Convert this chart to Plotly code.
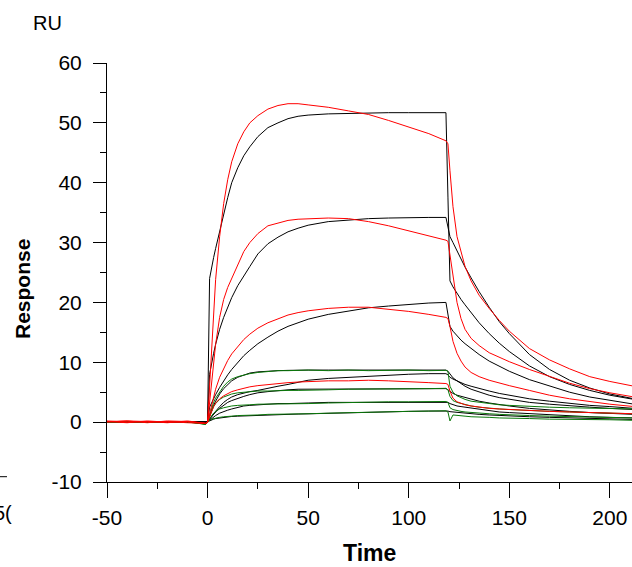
import plotly.graph_objects as go

# ---------------- data ----------------
T = [-50, -40, -30, -20, -10, -1,
     0, 1, 2, 3, 4, 6, 8, 10, 12, 15, 18, 21, 25, 30, 35, 40, 45, 50,
     60, 70, 80, 90, 100, 110, 118.5,
     119.5, 120.5, 122, 124, 126, 128, 131, 135, 140, 145, 150, 160, 170, 180, 190, 200, 212]

# fitted curves (black)
fit_A = [0, 0, 0, 0, 0, 0,
         0, 24, 26, 27.5, 29, 32, 35, 37.5, 40, 42.5, 44.5, 46, 47.7, 49.2, 50, 50.7, 51.1, 51.3,
         51.5, 51.6, 51.6, 51.7, 51.7, 51.7, 51.7,
         37.6, 23.6, 22.6, 21.5, 20.5, 19.6, 18.3, 16.6, 14.8, 13.2, 11.8, 9.4, 7.6, 6.3, 5.3, 4.5, 3.8]
fit_B = [0, 0, 0, 0, 0, 0,
         0, 8, 10, 11.5, 13, 15.5, 17.5, 19.3, 20.8, 22.8, 24.5, 26, 28.1, 29.8, 30.9, 31.8, 32.4, 32.9,
         33.5, 33.8, 34.0, 34.1, 34.2, 34.2, 34.2,
         32.6, 31.0, 30.0, 28.6, 27.2, 25.9, 24.1, 21.8, 19.2, 16.8, 14.8, 11.3, 8.8, 7.0, 5.7, 4.7, 3.9]
fit_C = [0, 0, 0, 0, 0, 0,
         0, 2.5, 3.3, 4.0, 4.6, 5.8, 6.9, 7.9, 8.8, 10.0, 11.1, 12.0, 13.1, 14.2, 15.2, 16.0, 16.6, 17.2,
         18.0, 18.6, 19.1, 19.4, 19.7, 19.9, 20.0,
         18.0, 16.0, 15.2, 14.4, 13.7, 13.1, 12.3, 11.3, 10.2, 9.3, 8.5, 7.1, 6.0, 5.0, 4.2, 3.6, 3.0]
fit_D = [0, 0, 0, 0, 0, 0,
         0, 0.5, 1.0, 1.4, 1.8, 2.6, 3.3, 3.8, 4.2, 4.6, 4.9, 5.1, 5.3, 5.7, 6.0, 6.3, 6.6, 7.0,
         7.3, 7.5, 7.7, 7.9, 8.0, 8.1, 8.1,
         7.9, 7.5, 7.2, 6.9, 6.6, 6.3, 6.0, 5.6, 5.2, 4.8, 4.5, 3.9, 3.5, 3.1, 2.8, 2.6, 2.3]
fit_E = [0, 0, 0, 0, 0, 0,
         0, 1.0, 2.0, 2.8, 3.5, 4.7, 5.6, 6.3, 6.9, 7.5, 7.9, 8.2, 8.4, 8.55, 8.6, 8.65, 8.7, 8.7,
         8.7, 8.7, 8.7, 8.7, 8.7, 8.7, 8.7,
         8.5, 8.0, 7.4, 6.9, 6.4, 6.0, 5.5, 5.0, 4.5, 4.1, 3.8, 3.3, 3.0, 2.7, 2.5, 2.3, 2.1]
fit_F = [0, 0, 0, 0, 0, 0,
         0, 0.5, 0.9, 1.3, 1.7, 2.3, 2.8, 3.3, 3.6, 4.0, 4.3, 4.6, 4.9, 5.1, 5.3, 5.4, 5.5, 5.5,
         5.6, 5.6, 5.6, 5.6, 5.6, 5.6, 5.6,
         5.4, 5.1, 4.8, 4.5, 4.3, 4.1, 3.8, 3.5, 3.2, 2.9, 2.7, 2.3, 2.0, 1.8, 1.6, 1.5, 1.3]
fit_G = [0, 0, 0, 0, 0, 0,
         0, 0.3, 0.6, 0.9, 1.1, 1.5, 1.8, 2.0, 2.2, 2.5, 2.7, 2.8, 2.9, 3.0, 3.1, 3.1, 3.2, 3.2,
         3.3, 3.3, 3.4, 3.4, 3.4, 3.4, 3.4,
         3.3, 3.1, 2.9, 2.7, 2.6, 2.5, 2.3, 2.1, 1.9, 1.7, 1.6, 1.4, 1.2, 1.0, 0.9, 0.8, 0.7]
fit_H = [0, 0, 0, 0, 0, 0,
         0, 0.2, 0.4, 0.5, 0.6, 0.7, 0.8, 0.9, 0.95, 1.0, 1.05, 1.1, 1.15, 1.2, 1.25, 1.3, 1.35, 1.4,
         1.5, 1.6, 1.7, 1.75, 1.8, 1.85, 1.9,
         1.85, 1.75, 1.7, 1.6, 1.55, 1.5, 1.4, 1.3, 1.2, 1.1, 1.0, 0.9, 0.8, 0.7, 0.6, 0.5, 0.45]

# measured curves (red = high concentrations, green = low concentrations)
red_A = [0.1, 0.2, -0.1, 0.2, 0.1, -0.2,
         0, 6, 13, 19, 23.8, 31, 36.5, 40.5, 43.5, 46.5, 48.5, 50, 51.2, 52.3, 52.9, 53.2, 53.2, 53.0,
         52.6, 52.0, 51.4, 50.4, 49.3, 48.2, 47.0,
         46.5, 42, 36, 31, 28.3, 26, 23.6, 21.2, 19.0, 17.0, 15.2, 12.3, 10.4, 8.9, 7.6, 6.8, 6.0]
red_B = [0.1, -0.1, 0.2, 0, 0.1, -0.2,
         0, 3, 6.5, 10, 13, 17.5, 20.5, 22.5, 24, 26.5, 28.5, 30, 31.5, 32.8, 33.3, 33.7, 33.9, 34.0,
         34.1, 34.0, 33.5, 32.8, 32.0, 31.2, 30.4,
         30.2, 28, 24, 20, 17.3, 15.5, 14.0, 12.8, 11.6, 10.8, 10.1, 8.8, 7.6, 6.5, 5.6, 4.9, 4.2]
red_C = [0.2, 0, 0.1, -0.1, 0.2, -0.2,
         0, 1.5, 3, 4.3, 5.5, 7.5, 9.0, 10.3, 11.4, 12.7, 13.8, 14.7, 15.7, 16.6, 17.3, 17.9, 18.3, 18.6,
         19.0, 19.2, 19.2, 18.9, 18.5, 18.0, 17.5,
         17.3, 16, 13.5, 11.5, 10.2, 9.2, 8.3, 7.6, 7.0, 6.5, 6.1, 5.3, 4.5, 3.9, 3.4, 3.0, 2.6]
red_D = [0, 0.2, 0.1, 0.1, -0.1, -0.2,
         0, 0.9, 1.9, 2.6, 3.2, 3.9, 4.4, 4.8, 5.1, 5.4, 5.7, 5.9, 6.1, 6.3, 6.4, 6.6, 6.7, 6.8,
         6.9, 6.9, 7.0, 6.9, 6.8, 6.6, 6.45,
         6.3, 5.2, 4.0, 3.4, 3.1, 2.9, 2.7, 2.5, 2.3, 2.2, 2.1, 1.9, 1.8, 1.7, 1.6, 1.5, 1.4]
green_E = [0, 0.1, 0, 0.1, 0, -0.3,
           0, 1.2, 2.4, 3.3, 4.0, 5.0, 6.0, 6.7, 7.2, 7.6, 7.9, 8.1, 8.3, 8.5, 8.6, 8.6, 8.7, 8.7,
           8.6, 8.7, 8.6, 8.7, 8.7, 8.6, 8.65,
           8.5, 6.0, 5.0, 4.4, 4.1, 3.8, 3.5, 3.3, 3.1, 2.9, 2.8, 2.6, 2.5, 2.4, 2.3, 2.2, 2.2]
green_F = [0, 0, 0.1, 0, 0.1, -0.3,
           0, 1.0, 1.9, 2.6, 3.1, 3.8, 4.2, 4.5, 4.7, 4.9, 5.0, 5.1, 5.2, 5.2, 5.3, 5.3, 5.3, 5.3,
           5.4, 5.5, 5.5, 5.6, 5.6, 5.6, 5.65,
           5.4, 4.3, 3.6, 3.3, 3.1, 2.9, 2.7, 2.5, 2.3, 2.2, 2.1, 1.9, 1.8, 1.7, 1.6, 1.5, 1.4]
green_G = [0.1, 0, 0, 0.1, 0, -0.3,
           0, 0.6, 1.1, 1.5, 1.8, 2.2, 2.4, 2.6, 2.7, 2.8, 2.9, 2.9, 3.0, 3.0, 3.0, 3.1, 3.1, 3.1,
           3.2, 3.3, 3.3, 3.4, 3.4, 3.4, 3.45,
           3.3, 2.4, 2.1, 1.9, 1.8, 1.7, 1.6, 1.5, 1.4, 1.3, 1.2, 1.1, 1.0, 0.9, 0.8, 0.8, 0.7]
green_H = [0, 0.1, 0, 0, 0.1, -0.4,
           0, 0.3, 0.5, 0.6, 0.7, 0.8, 0.9, 1.0, 1.0, 1.1, 1.1, 1.2, 1.2, 1.3, 1.3, 1.3, 1.35, 1.4,
           1.5, 1.6, 1.7, 1.75, 1.8, 1.85, 1.9,
           1.7, 0.2, 1.2, 1.1, 1.0, 1.0, 0.9, 0.9, 0.8, 0.7, 0.7, 0.6, 0.5, 0.5, 0.4, 0.4, 0.3]

X_TICKS = [-50, 0, 50, 100, 150, 200]
Y_TICKS = [-10, 0, 10, 20, 30, 40, 50, 60]

BLACK = "#000000"
RED = "#ff0000"
GREEN = "#0a780a"
FONT = "Arial, Liberation Sans, sans-serif"

fig = go.Figure()
for vals in [fit_A, fit_B, fit_C, fit_D, fit_E, fit_F, fit_G, fit_H]:
    fig.add_trace(go.Scatter(x=T, y=vals, mode="lines",
                             line=dict(color=BLACK, width=1), hoverinfo="skip"))
for vals, col in [(green_E, GREEN), (green_F, GREEN), (green_G, GREEN), (green_H, GREEN),
                  (red_D, RED), (red_C, RED), (red_B, RED), (red_A, RED)]:
    fig.add_trace(go.Scatter(x=T, y=vals, mode="lines",
                             line=dict(color=col, width=1), hoverinfo="skip"))

XR = [-50, 211]
YR = [-10, 60]
common = dict(showgrid=False, zeroline=False, tickcolor=BLACK, tickwidth=1, automargin=False)

fig.update_layout(
    width=632, height=567,
    margin=dict(l=107, r=0, t=63, b=85),
    paper_bgcolor="white", plot_bgcolor="white",
    showlegend=False,
    font=dict(family=FONT, color=BLACK, size=21),
    xaxis=dict(range=XR, tickmode="array", tickvals=X_TICKS, ticktext=[str(v) for v in X_TICKS],
               ticks="outside", ticklen=15,
               minor=dict(ticks="outside", ticklen=6, dtick=25, tick0=0, tickcolor=BLACK),
               showline=True, linecolor=BLACK, linewidth=1,
               tickfont=dict(size=21, family=FONT, color=BLACK), ticklabelstandoff=2, **common),
    yaxis=dict(range=YR, tickmode="array", tickvals=Y_TICKS, ticktext=[str(v) for v in Y_TICKS],
               ticks="outside", ticklen=13,
               minor=dict(ticks="outside", ticklen=6, dtick=5, tick0=0, tickcolor=BLACK),
               showline=True, linecolor=BLACK, linewidth=1,
               tickfont=dict(size=21, family=FONT, color=BLACK), ticklabelstandoff=7, **common),
    xaxis2=dict(range=XR, overlaying="x", anchor="y", side="bottom",
                tickmode="array", tickvals=X_TICKS, ticks="inside", ticklen=5,
                minor=dict(ticks="inside", ticklen=2, dtick=25, tick0=0, tickcolor=BLACK),
                showticklabels=False, showline=False, **common),
    yaxis2=dict(range=YR, overlaying="y", anchor="x", side="left",
                tickmode="array", tickvals=Y_TICKS, ticks="inside", ticklen=5,
                minor=dict(ticks="inside", ticklen=3, dtick=5, tick0=0, tickcolor=BLACK),
                showticklabels=False, showline=False, **common),
)

fig.add_annotation(text="RU", xref="paper", yref="paper", x=-0.1133, y=1.0943,
                   showarrow=False, font=dict(size=20, family=FONT, color=BLACK),
                   xanchor="center", yanchor="middle")
fig.add_annotation(text="<b>Response</b>", xref="paper", yref="paper", x=-0.1619, y=0.4606,
                   textangle=-90, showarrow=False, font=dict(size=21, family=FONT, color=BLACK),
                   xanchor="center", yanchor="middle")
fig.add_annotation(text="<b>Time</b>", xref="paper", yref="paper", x=0.5, y=-0.1695,
                   showarrow=False, font=dict(size=23, family=FONT, color=BLACK),
                   xanchor="center", yanchor="middle")
# fragment of a neighbouring panel at the left edge
fig.add_annotation(text="5(", xref="paper", yref="paper", x=-0.2181, y=-0.0728,
                   showarrow=False, font=dict(size=20, family=FONT, color=BLACK),
                   xanchor="left", yanchor="middle")
fig.add_shape(type="line", xref="paper", yref="paper", x0=-0.2038, x1=-0.1905,
              y0=0.01265, y1=0.01265, line=dict(color=BLACK, width=1))

# remove the default 8 px page margin so the figure sits at the window's corner
fig.write_html("out.html",
               config={"displayModeBar": False},
               post_script="document.body.style.margin='0';document.body.style.overflow='hidden';")
